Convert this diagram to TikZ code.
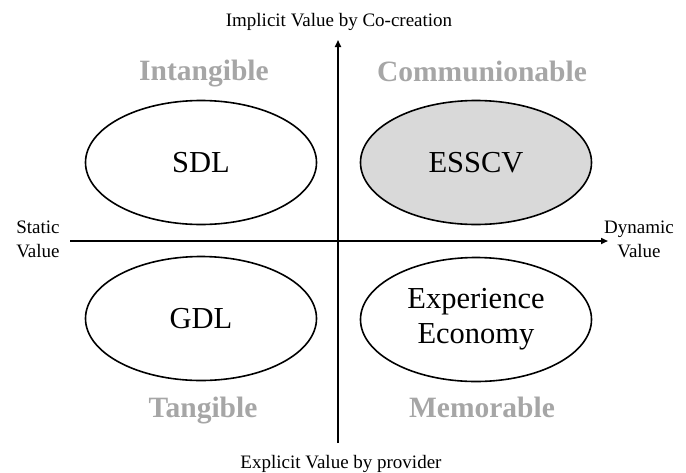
\documentclass[tikz,border=0pt]{standalone}
\usepackage{fontspec}
\setmainfont{Liberation Serif}
\usetikzlibrary{arrows.meta,shapes.geometric}
\definecolor{labgray}{HTML}{A6A6A6}
\definecolor{fillgray}{HTML}{D9D9D9}
\tikzset{
  axis/.style={line width=1.6pt, -{Triangle[length=7pt,width=6pt]}},
  oval/.style={draw, ellipse, line width=1.6pt, minimum width=231pt, minimum height=124pt,
    inner sep=0pt, font=\fontsize{30.5}{35}\selectfont, align=center},
  quad/.style={font=\bfseries\fontsize{29.5}{34}\selectfont, text=labgray, inner sep=0pt, anchor=base},
  axlabel/.style={font=\fontsize{19}{24}\selectfont, inner sep=0pt, align=center},
}
\begin{document}
\begin{tikzpicture}[x=1pt,y=-1pt]
\useasboundingbox (0,0) rectangle (686,472);
% axes
\coordinate (ytop) at (338,40);
\coordinate (ybot) at (338,443);
\coordinate (xleft) at (70,241);
\coordinate (xright) at (608,241);
\draw[axis] (ybot) -- (ytop);
\draw[axis] (xleft) -- (xright);
% axis labels
\node[axlabel, anchor=base] (impl) at (339,26) {Implicit Value by Co-creation};
\node[axlabel, anchor=base] (expl) at (341,468) {Explicit Value by provider};
\node[axlabel] (stat) at (38,239) {Static\\Value};
\node[axlabel] (dyn) at (639,239) {Dynamic\\Value};
% ellipses
\node[oval] (sdl) at (201,162.5) {SDL};
\node[oval, fill=fillgray] (esscv) at (476,162.5) {ESSCV};
\node[oval] (gdl) at (201,318.5) {GDL};
\node[oval] (exp) at (476,319.5) {Experience\\Economy};
% quadrant labels
\node[quad] (intang) at (204,80) {Intangible};
\node[quad] (comm) at (482,81) {Communionable};
\node[quad] (tang) at (203,417) {Tangible};
\node[quad] (memo) at (482,417) {Memorable};
\end{tikzpicture}
\end{document}
